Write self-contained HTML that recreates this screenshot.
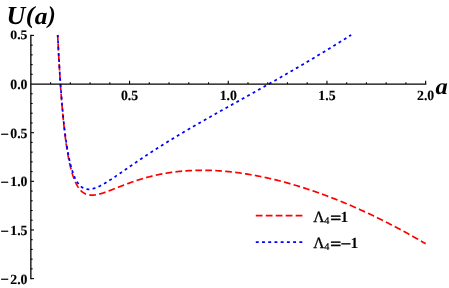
<!DOCTYPE html>
<html><head><meta charset="utf-8"><title>U(a)</title>
<style>
html,body{margin:0;padding:0;background:#fff;}
body{width:449px;height:288px;overflow:hidden;}
svg{display:block;}
text{font-family:"Liberation Serif",serif;font-weight:bold;fill:#000;text-rendering:geometricPrecision;}
.txt{filter:grayscale(1);}
.tk text{font-size:13.8px;stroke:#000;stroke-width:0.12px;}
.ttl{font-size:26px;font-style:italic;}
.leg{font-size:15.5px;}
</style></head><body>
<svg width="449" height="288" viewBox="0 0 449 288">
<rect width="449" height="288" fill="#fff"/>
<g fill="none" stroke-linecap="butt" stroke-linejoin="round">
<path d="M57.67 34.92 L57.67 34.93 L57.67 34.94 L57.67 34.97 L57.67 35.02 L57.67 35.07 L57.68 35.15 L57.68 35.24 L57.69 35.35 L57.69 35.47 L57.70 35.62 L57.71 35.78 L57.71 35.96 L57.72 36.16 L57.73 36.37 L57.75 36.61 L57.76 36.86 L57.77 37.14 L57.78 37.43 L57.80 37.75 L57.81 38.08 L57.83 38.43 L57.85 38.81 L57.87 39.20 L57.89 39.61 L57.91 40.05 L57.93 40.50 L57.95 40.97 L57.98 41.47 L58.00 41.98 L58.03 42.51 L58.05 43.06 L58.08 43.64 L58.11 44.23 L58.14 44.84 L58.17 45.47 L58.21 46.12 L58.24 46.78 L58.27 47.47 L58.31 48.17 L58.35 48.90 L58.38 49.64 L58.42 50.40 L58.46 51.17 L58.51 51.97 L58.55 52.78 L58.59 53.61 L58.64 54.45 L58.68 55.32 L58.73 56.19 L58.78 57.09 L58.83 58.00 L58.88 58.92 L58.93 59.86 L58.98 60.81 L59.04 61.78 L59.09 62.76 L59.15 63.76 L59.21 64.77 L59.27 65.79 L59.33 66.82 L59.39 67.87 L59.45 68.93 L59.51 69.99 L59.58 71.07 L59.65 72.16 L59.71 73.27 L59.78 74.38 L59.85 75.50 L59.92 76.63 L60.00 77.76 L60.07 78.91 L60.14 80.06 L60.22 81.22 L60.30 82.39 L60.38 83.57 L60.46 84.75 L60.54 85.93 L60.62 87.13 L60.71 88.32 L60.79 89.53 L60.88 90.73 L60.97 91.94 L61.05 93.16 L61.15 94.37 L61.24 95.59 L61.33 96.81 L61.42 98.04 L61.52 99.26 L61.62 100.49 L61.72 101.71 L61.82 102.94 L61.92 104.17 L62.02 105.39 L62.12 106.62 L62.23 107.84 L62.33 109.07 L62.44 110.29 L62.55 111.51 L62.66 112.73 L62.77 113.94 L62.88 115.15 L63.00 116.36 L63.11 117.56 L63.23 118.76 L63.35 119.96 L63.47 121.15 L63.59 122.33 L63.71 123.51 L63.84 124.69 L63.96 125.86 L64.09 127.02 L64.22 128.18 L64.35 129.33 L64.48 130.47 L64.61 131.61 L64.74 132.74 L64.88 133.86 L65.01 134.97 L65.15 136.08 L65.29 137.17 L65.43 138.26 L65.57 139.34 L65.72 140.42 L65.86 141.48 L66.01 142.53 L66.15 143.58 L66.30 144.61 L66.45 145.64 L66.61 146.65 L66.76 147.66 L66.91 148.65 L67.07 149.64 L67.23 150.62 L67.39 151.58 L67.55 152.54 L67.71 153.48 L67.87 154.41 L68.04 155.34 L68.20 156.25 L68.37 157.15 L68.54 158.04 L68.71 158.92 L68.88 159.78 L69.05 160.64 L69.23 161.48 L69.40 162.32 L69.58 163.14 L69.76 163.95 L69.94 164.75 L70.12 165.54 L70.31 166.31 L70.49 167.08 L70.68 167.83 L70.87 168.57 L71.05 169.30 L71.25 170.02 L71.44 170.73 L71.63 171.43 L71.83 172.11 L72.02 172.78 L72.22 173.44 L72.42 174.09 L72.62 174.73 L72.82 175.36 L73.03 175.97 L73.23 176.58 L73.44 177.17 L73.65 177.75 L73.86 178.32 L74.07 178.88 L74.28 179.43 L74.50 179.97 L74.72 180.50 L74.93 181.01 L75.15 181.52 L75.37 182.01 L75.59 182.49 L75.82 182.96 L76.04 183.43 L76.27 183.88 L76.50 184.32 L76.73 184.75 L76.96 185.17 L77.19 185.58 L77.43 185.98 L77.66 186.37 L77.90 186.75 L78.14 187.12 L78.38 187.48 L78.62 187.83 L78.86 188.17 L79.11 188.50 L79.35 188.82 L79.60 189.13 L79.85 189.44 L80.10 189.73 L80.36 190.02 L80.61 190.29 L80.87 190.56 L81.12 190.82 L81.38 191.07 L81.64 191.31 L81.90 191.54 L82.17 191.77 L82.43 191.98 L82.70 192.19 L82.97 192.39 L83.24 192.58 L83.51 192.77 L83.78 192.94 L84.05 193.11 L84.33 193.27 L84.61 193.43 L84.89 193.57 L85.17 193.71 L85.45 193.85 L85.73 193.97 L86.02 194.09 L86.31 194.20 L86.59 194.30 L86.88 194.40 L87.18 194.49 L87.47 194.58 L87.76 194.66 L88.06 194.73 L88.36 194.80 L88.66 194.86 L88.96 194.91 L89.26 194.96 L89.57 195.00 L89.87 195.04 L90.18 195.07 L90.49 195.09 L90.80 195.11 L91.11 195.13 L91.43 195.14 L91.74 195.14 L92.06 195.14 L92.38 195.14 L92.70 195.13 L93.02 195.11 L93.34 195.09 L93.67 195.07 L93.99 195.04 L94.32 195.01 L94.65 194.97 L94.98 194.93 L95.32 194.88 L95.65 194.83 L95.99 194.78 L96.33 194.72 L96.67 194.66 L97.01 194.59 L97.35 194.52 L97.70 194.45 L98.04 194.37 L98.39 194.29 L98.74 194.21 L99.09 194.13 L99.44 194.04 L99.80 193.94 L100.15 193.85 L100.51 193.75 L100.87 193.65 L101.23 193.54 L101.59 193.44 L101.96 193.33 L102.32 193.21 L102.69 193.10 L103.06 192.98 L103.43 192.86 L103.80 192.74 L104.18 192.61 L104.55 192.49 L104.93 192.36 L105.31 192.23 L105.69 192.09 L106.07 191.96 L106.45 191.82 L106.84 191.68 L107.23 191.54 L107.62 191.40 L108.01 191.25 L108.40 191.11 L108.79 190.96 L109.19 190.81 L109.58 190.66 L109.98 190.51 L110.38 190.35 L110.79 190.20 L111.19 190.04 L111.60 189.88 L112.00 189.72 L112.41 189.56 L112.82 189.40 L113.23 189.24 L113.65 189.08 L114.06 188.91 L114.48 188.75 L114.90 188.58 L115.32 188.42 L115.74 188.25 L116.17 188.08 L116.59 187.91 L117.02 187.75 L117.45 187.58 L117.88 187.41 L118.31 187.23 L118.75 187.06 L119.18 186.89 L119.62 186.72 L120.06 186.55 L120.50 186.37 L120.94 186.20 L121.38 186.03 L121.83 185.85 L122.28 185.68 L122.73 185.51 L123.18 185.33 L123.63 185.16 L124.09 184.99 L124.54 184.81 L125.00 184.64 L125.46 184.46 L125.92 184.29 L126.38 184.12 L126.85 183.94 L127.31 183.77 L127.78 183.60 L128.25 183.42 L128.72 183.25 L129.20 183.08 L129.67 182.91 L130.15 182.74 L130.63 182.57 L131.11 182.39 L131.59 182.22 L132.07 182.05 L132.56 181.89 L133.04 181.72 L133.53 181.55 L134.02 181.38 L134.51 181.21 L135.01 181.05 L135.50 180.88 L136.00 180.72 L136.50 180.55 L137.00 180.39 L137.50 180.23 L138.01 180.06 L138.51 179.90 L139.02 179.74 L139.53 179.58 L140.04 179.42 L140.55 179.26 L141.07 179.11 L141.58 178.95 L142.10 178.80 L142.62 178.64 L143.14 178.49 L143.67 178.34 L144.19 178.18 L144.72 178.03 L145.25 177.88 L145.78 177.73 L146.31 177.59 L146.84 177.44 L147.38 177.30 L147.91 177.15 L148.45 177.01 L148.99 176.87 L149.54 176.73 L150.08 176.59 L150.63 176.45 L151.17 176.31 L151.72 176.18 L152.28 176.04 L152.83 175.91 L153.38 175.78 L153.94 175.64 L154.50 175.52 L155.06 175.39 L155.62 175.26 L156.18 175.13 L156.75 175.01 L157.32 174.89 L157.88 174.77 L158.45 174.65 L159.03 174.53 L159.60 174.41 L160.18 174.29 L160.75 174.18 L161.33 174.07 L161.92 173.95 L162.50 173.84 L163.08 173.74 L163.67 173.63 L164.26 173.52 L164.85 173.42 L165.44 173.32 L166.03 173.22 L166.63 173.12 L167.23 173.02 L167.83 172.92 L168.43 172.83 L169.03 172.73 L169.63 172.64 L170.24 172.55 L170.85 172.46 L171.46 172.38 L172.07 172.29 L172.68 172.21 L173.30 172.13 L173.91 172.05 L174.53 171.97 L175.15 171.89 L175.77 171.82 L176.40 171.74 L177.02 171.67 L177.65 171.60 L178.28 171.53 L178.91 171.47 L179.55 171.40 L180.18 171.34 L180.82 171.28 L181.46 171.22 L182.10 171.16 L182.74 171.10 L183.38 171.05 L184.03 171.00 L184.67 170.95 L185.32 170.90 L185.97 170.85 L186.63 170.80 L187.28 170.76 L187.94 170.72 L188.60 170.68 L189.26 170.64 L189.92 170.61 L190.58 170.57 L191.25 170.54 L191.91 170.51 L192.58 170.48 L193.25 170.45 L193.93 170.43 L194.60 170.41 L195.28 170.39 L195.96 170.37 L196.64 170.35 L197.32 170.34 L198.00 170.32 L198.69 170.31 L199.37 170.30 L200.06 170.29 L200.75 170.29 L201.45 170.29 L202.14 170.29 L202.84 170.29 L203.54 170.29 L204.24 170.29 L204.94 170.30 L205.64 170.31 L206.35 170.32 L207.06 170.33 L207.76 170.35 L208.48 170.36 L209.19 170.38 L209.90 170.40 L210.62 170.43 L211.34 170.45 L212.06 170.48 L212.78 170.51 L213.50 170.54 L214.23 170.57 L214.96 170.61 L215.69 170.65 L216.42 170.69 L217.15 170.73 L217.89 170.77 L218.62 170.82 L219.36 170.87 L220.10 170.92 L220.84 170.97 L221.59 171.02 L222.34 171.08 L223.08 171.14 L223.83 171.20 L224.58 171.26 L225.34 171.33 L226.09 171.40 L226.85 171.47 L227.61 171.54 L228.37 171.61 L229.13 171.69 L229.90 171.77 L230.66 171.85 L231.43 171.93 L232.20 172.02 L232.97 172.11 L233.75 172.20 L234.52 172.29 L235.30 172.38 L236.08 172.48 L236.86 172.58 L237.64 172.68 L238.43 172.78 L239.22 172.89 L240.01 173.00 L240.80 173.11 L241.59 173.22 L242.38 173.33 L243.18 173.45 L243.98 173.57 L244.78 173.69 L245.58 173.82 L246.38 173.94 L247.19 174.07 L248.00 174.21 L248.80 174.34 L249.62 174.47 L250.43 174.61 L251.24 174.75 L252.06 174.90 L252.88 175.04 L253.70 175.19 L254.52 175.34 L255.35 175.49 L256.17 175.65 L257.00 175.81 L257.83 175.97 L258.66 176.13 L259.50 176.29 L260.33 176.46 L261.17 176.63 L262.01 176.80 L262.85 176.98 L263.69 177.16 L264.54 177.34 L265.38 177.52 L266.23 177.70 L267.08 177.89 L267.94 178.08 L268.79 178.27 L269.65 178.47 L270.51 178.66 L271.37 178.86 L272.23 179.07 L273.09 179.27 L273.96 179.48 L274.82 179.69 L275.69 179.90 L276.57 180.12 L277.44 180.33 L278.31 180.55 L279.19 180.78 L280.07 181.00 L280.95 181.23 L281.83 181.46 L282.72 181.69 L283.61 181.93 L284.49 182.17 L285.39 182.41 L286.28 182.65 L287.17 182.90 L288.07 183.15 L288.97 183.40 L289.87 183.65 L290.77 183.91 L291.67 184.17 L292.58 184.43 L293.49 184.70 L294.39 184.97 L295.31 185.24 L296.22 185.51 L297.13 185.79 L298.05 186.07 L298.97 186.35 L299.89 186.63 L300.81 186.92 L301.74 187.21 L302.67 187.50 L303.60 187.80 L304.53 188.09 L305.46 188.40 L306.39 188.70 L307.33 189.01 L308.27 189.32 L309.21 189.63 L310.15 189.94 L311.09 190.26 L312.04 190.58 L312.99 190.90 L313.94 191.23 L314.89 191.56 L315.84 191.89 L316.80 192.23 L317.76 192.57 L318.72 192.91 L319.68 193.25 L320.64 193.60 L321.60 193.95 L322.57 194.30 L323.54 194.65 L324.51 195.01 L325.48 195.37 L326.46 195.74 L327.44 196.11 L328.42 196.48 L329.40 196.85 L330.38 197.22 L331.36 197.60 L332.35 197.99 L333.34 198.37 L334.33 198.76 L335.32 199.15 L336.31 199.55 L337.31 199.94 L338.31 200.34 L339.31 200.75 L340.31 201.15 L341.31 201.56 L342.32 201.98 L343.33 202.39 L344.34 202.81 L345.35 203.23 L346.36 203.66 L347.38 204.09 L348.40 204.52 L349.42 204.95 L350.44 205.39 L351.46 205.83 L352.49 206.28 L353.51 206.72 L354.54 207.17 L355.57 207.63 L356.61 208.08 L357.64 208.54 L358.68 209.01 L359.72 209.47 L360.76 209.94 L361.80 210.42 L362.85 210.89 L363.89 211.37 L364.94 211.86 L365.99 212.34 L367.05 212.83 L368.10 213.33 L369.16 213.82 L370.21 214.32 L371.28 214.82 L372.34 215.33 L373.40 215.84 L374.47 216.35 L375.54 216.87 L376.61 217.39 L377.68 217.91 L378.75 218.44 L379.83 218.97 L380.91 219.50 L381.99 220.04 L383.07 220.58 L384.15 221.12 L385.24 221.67 L386.33 222.22 L387.42 222.77 L388.51 223.33 L389.60 223.89 L390.70 224.46 L391.80 225.02 L392.90 225.60 L394.00 226.17 L395.10 226.75 L396.21 227.33 L397.32 227.92 L398.43 228.51 L399.54 229.10 L400.65 229.70 L401.77 230.30 L402.88 230.90 L404.00 231.51 L405.12 232.12 L406.25 232.73 L407.37 233.35 L408.50 233.97 L409.63 234.60 L410.76 235.23 L411.89 235.86 L413.03 236.50 L414.17 237.14 L415.31 237.78 L416.45 238.43 L417.59 239.08 L418.74 239.74 L419.88 240.40 L421.03 241.06 L422.18 241.73 L423.34 242.40 L424.49 243.07 L425.65 243.75" stroke="#ff0000" stroke-width="1.7" stroke-dasharray="6.7 3.27" stroke-dashoffset="0.963"/>
<path d="M57.72 34.92 L57.72 34.93 L57.72 34.94 L57.72 34.96 L57.73 35.00 L57.73 35.04 L57.73 35.10 L57.73 35.17 L57.74 35.26 L57.74 35.36 L57.75 35.47 L57.75 35.60 L57.76 35.74 L57.77 35.89 L57.78 36.07 L57.79 36.25 L57.79 36.45 L57.81 36.67 L57.82 36.90 L57.83 37.15 L57.84 37.42 L57.85 37.70 L57.87 37.99 L57.88 38.30 L57.90 38.63 L57.92 38.97 L57.93 39.33 L57.95 39.71 L57.97 40.10 L57.99 40.51 L58.01 40.93 L58.03 41.37 L58.05 41.83 L58.08 42.30 L58.10 42.79 L58.13 43.29 L58.15 43.81 L58.18 44.34 L58.21 44.89 L58.24 45.46 L58.27 46.04 L58.30 46.63 L58.33 47.24 L58.36 47.87 L58.39 48.51 L58.43 49.16 L58.46 49.83 L58.50 50.52 L58.53 51.22 L58.57 51.93 L58.61 52.65 L58.65 53.39 L58.69 54.14 L58.73 54.91 L58.77 55.69 L58.82 56.48 L58.86 57.28 L58.90 58.10 L58.95 58.93 L59.00 59.77 L59.05 60.62 L59.10 61.48 L59.14 62.36 L59.20 63.24 L59.25 64.14 L59.30 65.04 L59.35 65.96 L59.41 66.88 L59.47 67.82 L59.52 68.76 L59.58 69.72 L59.64 70.68 L59.70 71.65 L59.76 72.63 L59.82 73.62 L59.88 74.61 L59.95 75.61 L60.01 76.62 L60.08 77.64 L60.15 78.66 L60.21 79.69 L60.28 80.72 L60.35 81.76 L60.42 82.81 L60.50 83.86 L60.57 84.91 L60.64 85.97 L60.72 87.03 L60.80 88.10 L60.87 89.17 L60.95 90.24 L61.03 91.32 L61.11 92.40 L61.19 93.48 L61.28 94.56 L61.36 95.65 L61.44 96.73 L61.53 97.82 L61.62 98.91 L61.70 100.00 L61.79 101.09 L61.88 102.18 L61.98 103.27 L62.07 104.36 L62.16 105.44 L62.26 106.53 L62.35 107.62 L62.45 108.70 L62.54 109.78 L62.64 110.87 L62.74 111.94 L62.84 113.02 L62.95 114.09 L63.05 115.16 L63.15 116.23 L63.26 117.30 L63.37 118.36 L63.47 119.41 L63.58 120.47 L63.69 121.51 L63.80 122.56 L63.91 123.60 L64.03 124.63 L64.14 125.66 L64.26 126.68 L64.37 127.70 L64.49 128.71 L64.61 129.72 L64.73 130.72 L64.85 131.72 L64.97 132.71 L65.10 133.69 L65.22 134.66 L65.35 135.63 L65.47 136.59 L65.60 137.55 L65.73 138.49 L65.86 139.43 L65.99 140.37 L66.12 141.29 L66.26 142.21 L66.39 143.12 L66.53 144.02 L66.67 144.91 L66.80 145.80 L66.94 146.67 L67.08 147.54 L67.22 148.40 L67.37 149.25 L67.51 150.10 L67.66 150.93 L67.80 151.75 L67.95 152.57 L68.10 153.38 L68.25 154.18 L68.40 154.97 L68.55 155.75 L68.71 156.52 L68.86 157.28 L69.02 158.03 L69.17 158.77 L69.33 159.51 L69.49 160.23 L69.65 160.95 L69.81 161.65 L69.97 162.35 L70.14 163.03 L70.30 163.71 L70.47 164.38 L70.64 165.04 L70.81 165.68 L70.98 166.32 L71.15 166.95 L71.32 167.57 L71.49 168.18 L71.67 168.78 L71.84 169.37 L72.02 169.95 L72.20 170.52 L72.38 171.09 L72.56 171.64 L72.74 172.18 L72.92 172.71 L73.11 173.24 L73.29 173.75 L73.48 174.26 L73.67 174.75 L73.86 175.24 L74.05 175.72 L74.24 176.18 L74.43 176.64 L74.63 177.09 L74.82 177.53 L75.02 177.96 L75.22 178.39 L75.42 178.80 L75.62 179.20 L75.82 179.60 L76.02 179.98 L76.22 180.36 L76.43 180.73 L76.64 181.09 L76.84 181.44 L77.05 181.78 L77.26 182.11 L77.47 182.44 L77.69 182.76 L77.90 183.06 L78.11 183.36 L78.33 183.66 L78.55 183.94 L78.77 184.21 L78.99 184.48 L79.21 184.74 L79.43 184.99 L79.65 185.23 L79.88 185.47 L80.11 185.70 L80.33 185.92 L80.56 186.13 L80.79 186.33 L81.02 186.53 L81.26 186.72 L81.49 186.90 L81.73 187.08 L81.96 187.24 L82.20 187.41 L82.44 187.56 L82.68 187.71 L82.92 187.84 L83.16 187.98 L83.41 188.10 L83.65 188.22 L83.90 188.33 L84.15 188.44 L84.40 188.54 L84.65 188.63 L84.90 188.72 L85.15 188.80 L85.40 188.87 L85.66 188.94 L85.92 189.00 L86.17 189.06 L86.43 189.11 L86.69 189.15 L86.96 189.19 L87.22 189.22 L87.48 189.24 L87.75 189.26 L88.02 189.28 L88.28 189.29 L88.55 189.29 L88.83 189.29 L89.10 189.29 L89.37 189.27 L89.65 189.26 L89.92 189.23 L90.20 189.21 L90.48 189.18 L90.76 189.14 L91.04 189.10 L91.32 189.05 L91.61 189.00 L91.89 188.94 L92.18 188.88 L92.46 188.82 L92.75 188.75 L93.04 188.67 L93.34 188.59 L93.63 188.51 L93.92 188.42 L94.22 188.33 L94.52 188.24 L94.81 188.14 L95.11 188.04 L95.41 187.93 L95.72 187.82 L96.02 187.70 L96.32 187.58 L96.63 187.46 L96.94 187.34 L97.25 187.21 L97.56 187.07 L97.87 186.94 L98.18 186.80 L98.50 186.65 L98.81 186.51 L99.13 186.36 L99.45 186.20 L99.77 186.05 L100.09 185.89 L100.41 185.72 L100.73 185.56 L101.06 185.39 L101.38 185.22 L101.71 185.04 L102.04 184.87 L102.37 184.69 L102.70 184.50 L103.03 184.32 L103.37 184.13 L103.70 183.94 L104.04 183.74 L104.38 183.55 L104.72 183.35 L105.06 183.15 L105.40 182.94 L105.74 182.74 L106.09 182.53 L106.43 182.32 L106.78 182.11 L107.13 181.89 L107.48 181.67 L107.83 181.45 L108.18 181.23 L108.54 181.01 L108.89 180.78 L109.25 180.55 L109.61 180.32 L109.97 180.09 L110.33 179.86 L110.69 179.62 L111.06 179.39 L111.42 179.15 L111.79 178.91 L112.16 178.66 L112.52 178.42 L112.89 178.17 L113.27 177.92 L113.64 177.67 L114.01 177.42 L114.39 177.17 L114.77 176.92 L115.15 176.66 L115.53 176.40 L115.91 176.14 L116.29 175.88 L116.67 175.62 L117.06 175.36 L117.45 175.10 L117.84 174.83 L118.23 174.56 L118.62 174.29 L119.01 174.02 L119.40 173.75 L119.80 173.48 L120.19 173.21 L120.59 172.93 L120.99 172.66 L121.39 172.38 L121.79 172.10 L122.20 171.82 L122.60 171.54 L123.01 171.26 L123.42 170.98 L123.83 170.70 L124.24 170.41 L124.65 170.13 L125.06 169.84 L125.47 169.56 L125.89 169.27 L126.31 168.98 L126.73 168.69 L127.15 168.40 L127.57 168.11 L127.99 167.81 L128.42 167.52 L128.84 167.23 L129.27 166.93 L129.70 166.64 L130.13 166.34 L130.56 166.04 L130.99 165.75 L131.42 165.45 L131.86 165.15 L132.30 164.85 L132.73 164.55 L133.17 164.25 L133.61 163.94 L134.06 163.64 L134.50 163.34 L134.95 163.03 L135.39 162.73 L135.84 162.42 L136.29 162.12 L136.74 161.81 L137.19 161.50 L137.65 161.20 L138.10 160.89 L138.56 160.58 L139.02 160.27 L139.48 159.96 L139.94 159.65 L140.40 159.34 L140.86 159.03 L141.33 158.72 L141.79 158.40 L142.26 158.09 L142.73 157.78 L143.20 157.46 L143.67 157.15 L144.15 156.83 L144.62 156.52 L145.10 156.20 L145.58 155.89 L146.05 155.57 L146.53 155.25 L147.02 154.93 L147.50 154.62 L147.98 154.30 L148.47 153.98 L148.96 153.66 L149.45 153.34 L149.94 153.02 L150.43 152.70 L150.92 152.38 L151.42 152.06 L151.91 151.74 L152.41 151.41 L152.91 151.09 L153.41 150.77 L153.91 150.45 L154.42 150.12 L154.92 149.80 L155.43 149.47 L155.94 149.15 L156.45 148.82 L156.96 148.50 L157.47 148.17 L157.98 147.85 L158.50 147.52 L159.01 147.19 L159.53 146.87 L160.05 146.54 L160.57 146.21 L161.09 145.88 L161.62 145.55 L162.14 145.22 L162.67 144.89 L163.19 144.56 L163.72 144.23 L164.25 143.90 L164.79 143.57 L165.32 143.24 L165.86 142.91 L166.39 142.58 L166.93 142.25 L167.47 141.91 L168.01 141.58 L168.55 141.25 L169.10 140.91 L169.64 140.58 L170.19 140.25 L170.74 139.91 L171.29 139.58 L171.84 139.24 L172.39 138.91 L172.94 138.57 L173.50 138.23 L174.06 137.90 L174.61 137.56 L175.17 137.22 L175.73 136.88 L176.30 136.55 L176.86 136.21 L177.43 135.87 L177.99 135.53 L178.56 135.19 L179.13 134.85 L179.70 134.51 L180.28 134.17 L180.85 133.82 L181.43 133.48 L182.00 133.14 L182.58 132.80 L183.16 132.46 L183.75 132.11 L184.33 131.77 L184.91 131.42 L185.50 131.08 L186.09 130.73 L186.68 130.39 L187.27 130.04 L187.86 129.70 L188.45 129.35 L189.05 129.00 L189.64 128.65 L190.24 128.31 L190.84 127.96 L191.44 127.61 L192.04 127.26 L192.65 126.91 L193.25 126.56 L193.86 126.21 L194.47 125.86 L195.08 125.50 L195.69 125.15 L196.30 124.80 L196.92 124.45 L197.53 124.09 L198.15 123.74 L198.77 123.38 L199.39 123.03 L200.01 122.67 L200.63 122.31 L201.26 121.96 L201.88 121.60 L202.51 121.24 L203.14 120.88 L203.77 120.52 L204.40 120.16 L205.04 119.80 L205.67 119.44 L206.31 119.08 L206.94 118.72 L207.58 118.36 L208.23 118.00 L208.87 117.63 L209.51 117.27 L210.16 116.90 L210.80 116.54 L211.45 116.17 L212.10 115.80 L212.75 115.44 L213.41 115.07 L214.06 114.70 L214.72 114.33 L215.37 113.96 L216.03 113.59 L216.69 113.22 L217.36 112.85 L218.02 112.48 L218.68 112.10 L219.35 111.73 L220.02 111.35 L220.69 110.98 L221.36 110.60 L222.03 110.23 L222.70 109.85 L223.38 109.47 L224.06 109.09 L224.73 108.71 L225.41 108.33 L226.10 107.95 L226.78 107.57 L227.46 107.19 L228.15 106.80 L228.84 106.42 L229.53 106.04 L230.22 105.65 L230.91 105.26 L231.60 104.88 L232.30 104.49 L232.99 104.10 L233.69 103.71 L234.39 103.32 L235.09 102.93 L235.79 102.54 L236.50 102.15 L237.20 101.75 L237.91 101.36 L238.62 100.96 L239.33 100.57 L240.04 100.17 L240.76 99.77 L241.47 99.37 L242.19 98.97 L242.90 98.57 L243.62 98.17 L244.34 97.77 L245.07 97.36 L245.79 96.96 L246.52 96.56 L247.24 96.15 L247.97 95.74 L248.70 95.33 L249.43 94.93 L250.17 94.52 L250.90 94.10 L251.64 93.69 L252.37 93.28 L253.11 92.87 L253.85 92.45 L254.60 92.04 L255.34 91.62 L256.08 91.20 L256.83 90.78 L257.58 90.36 L258.33 89.94 L259.08 89.52 L259.83 89.10 L260.59 88.67 L261.34 88.25 L262.10 87.82 L262.86 87.39 L263.62 86.96 L264.38 86.53 L265.15 86.10 L265.91 85.67 L266.68 85.24 L267.45 84.80 L268.22 84.37 L268.99 83.93 L269.76 83.50 L270.53 83.06 L271.31 82.62 L272.09 82.18 L272.87 81.73 L273.65 81.29 L274.43 80.85 L275.21 80.40 L276.00 79.95 L276.78 79.50 L277.57 79.06 L278.36 78.60 L279.15 78.15 L279.95 77.70 L280.74 77.25 L281.54 76.79 L282.33 76.33 L283.13 75.87 L283.93 75.41 L284.74 74.95 L285.54 74.49 L286.35 74.03 L287.15 73.56 L287.96 73.10 L288.77 72.63 L289.58 72.16 L290.40 71.69 L291.21 71.22 L292.03 70.75 L292.84 70.27 L293.66 69.80 L294.48 69.32 L295.31 68.84 L296.13 68.36 L296.96 67.88 L297.78 67.40 L298.61 66.91 L299.44 66.43 L300.27 65.94 L301.11 65.45 L301.94 64.96 L302.78 64.47 L303.62 63.98 L304.45 63.48 L305.30 62.99 L306.14 62.49 L306.98 61.99 L307.83 61.49 L308.68 60.99 L309.52 60.48 L310.37 59.98 L311.23 59.47 L312.08 58.96 L312.94 58.45 L313.79 57.94 L314.65 57.43 L315.51 56.91 L316.37 56.40 L317.23 55.88 L318.10 55.36 L318.97 54.84 L319.83 54.32 L320.70 53.79 L321.57 53.27 L322.45 52.74 L323.32 52.21 L324.19 51.68 L325.07 51.15 L325.95 50.61 L326.83 50.07 L327.71 49.54 L328.60 49.00 L329.48 48.46 L330.37 47.91 L331.26 47.37 L332.14 46.82 L333.04 46.27 L333.93 45.72 L334.82 45.17 L335.72 44.62 L336.62 44.06 L337.52 43.51 L338.42 42.95 L339.32 42.39 L340.22 41.82 L341.13 41.26 L342.04 40.69 L342.94 40.12 L343.85 39.55 L344.77 38.98 L345.68 38.41 L346.59 37.83 L347.51 37.25 L348.43 36.67 L349.35 36.09 L350.27 35.51 L351.19 34.92" stroke="#0000ff" stroke-width="1.75" stroke-dasharray="2.9 3.324" stroke-dashoffset="0.597"/>
<path d="M255.8 215.6H302.8" stroke="#ff0000" stroke-width="1.7" stroke-dasharray="6.7 3.27"/>
<path d="M255.8 242H302.8" stroke="#0000ff" stroke-width="1.75" stroke-dasharray="2.9 3.324"/>
</g>
<g stroke="#000" stroke-width="1.3" fill="none" stroke-linecap="butt">
<line x1="30.85" y1="34.76" x2="30.85" y2="279.26"/>
<line x1="30.85" y1="84.05" x2="426.30" y2="84.05"/>
</g>
<g stroke="#000" stroke-width="1.1" fill="none">
<line x1="50.59" y1="84.05" x2="50.59" y2="82.25"/>
<line x1="70.33" y1="84.05" x2="70.33" y2="82.25"/>
<line x1="90.07" y1="84.05" x2="90.07" y2="82.25"/>
<line x1="109.81" y1="84.05" x2="109.81" y2="82.25"/>
<line x1="129.55" y1="84.05" x2="129.55" y2="80.85"/>
<line x1="149.29" y1="84.05" x2="149.29" y2="82.25"/>
<line x1="169.03" y1="84.05" x2="169.03" y2="82.25"/>
<line x1="188.77" y1="84.05" x2="188.77" y2="82.25"/>
<line x1="208.51" y1="84.05" x2="208.51" y2="82.25"/>
<line x1="228.25" y1="84.05" x2="228.25" y2="80.85"/>
<line x1="247.99" y1="84.05" x2="247.99" y2="82.25"/>
<line x1="267.73" y1="84.05" x2="267.73" y2="82.25"/>
<line x1="287.47" y1="84.05" x2="287.47" y2="82.25"/>
<line x1="307.21" y1="84.05" x2="307.21" y2="82.25"/>
<line x1="326.95" y1="84.05" x2="326.95" y2="80.85"/>
<line x1="346.69" y1="84.05" x2="346.69" y2="82.25"/>
<line x1="366.43" y1="84.05" x2="366.43" y2="82.25"/>
<line x1="386.17" y1="84.05" x2="386.17" y2="82.25"/>
<line x1="405.91" y1="84.05" x2="405.91" y2="82.25"/>
<line x1="425.65" y1="84.05" x2="425.65" y2="80.85"/>
<line x1="30.85" y1="35.41" x2="34.05" y2="35.41"/>
<line x1="30.85" y1="45.14" x2="32.65" y2="45.14"/>
<line x1="30.85" y1="54.87" x2="32.65" y2="54.87"/>
<line x1="30.85" y1="64.59" x2="32.65" y2="64.59"/>
<line x1="30.85" y1="74.32" x2="32.65" y2="74.32"/>
<line x1="30.85" y1="93.78" x2="32.65" y2="93.78"/>
<line x1="30.85" y1="103.51" x2="32.65" y2="103.51"/>
<line x1="30.85" y1="113.23" x2="32.65" y2="113.23"/>
<line x1="30.85" y1="122.96" x2="32.65" y2="122.96"/>
<line x1="30.85" y1="132.69" x2="34.05" y2="132.69"/>
<line x1="30.85" y1="142.42" x2="32.65" y2="142.42"/>
<line x1="30.85" y1="152.15" x2="32.65" y2="152.15"/>
<line x1="30.85" y1="161.87" x2="32.65" y2="161.87"/>
<line x1="30.85" y1="171.60" x2="32.65" y2="171.60"/>
<line x1="30.85" y1="181.33" x2="34.05" y2="181.33"/>
<line x1="30.85" y1="191.06" x2="32.65" y2="191.06"/>
<line x1="30.85" y1="200.79" x2="32.65" y2="200.79"/>
<line x1="30.85" y1="210.51" x2="32.65" y2="210.51"/>
<line x1="30.85" y1="220.24" x2="32.65" y2="220.24"/>
<line x1="30.85" y1="229.97" x2="34.05" y2="229.97"/>
<line x1="30.85" y1="239.70" x2="32.65" y2="239.70"/>
<line x1="30.85" y1="249.43" x2="32.65" y2="249.43"/>
<line x1="30.85" y1="259.15" x2="32.65" y2="259.15"/>
<line x1="30.85" y1="268.88" x2="32.65" y2="268.88"/>
<line x1="30.85" y1="278.61" x2="34.05" y2="278.61"/>
</g>
<g class="txt">
<g class="tk">
<text transform="translate(129.55 100.35) scale(1 1.020)" text-anchor="middle">0.5</text>
<text transform="translate(228.25 100.35) scale(1 1.020)" text-anchor="middle">1.0</text>
<text transform="translate(326.95 100.35) scale(1 1.020)" text-anchor="middle">1.5</text>
<text transform="translate(425.65 100.35) scale(1 1.020)" text-anchor="middle">2.0</text>
<text transform="translate(27.50 39.41) scale(1 0.930)" text-anchor="end">0.5</text>
<text transform="translate(27.50 89.05) scale(1 1.020)" text-anchor="end">0.0</text>
<text transform="translate(27.50 137.69) scale(1 1.020)" text-anchor="end">0.5</text>
<text style="stroke:#000;stroke-width:0.2px" transform="translate(0.50 138.54) scale(1.060 1.020)">−</text>
<text transform="translate(27.50 186.33) scale(1 1.020)" text-anchor="end">1.0</text>
<text style="stroke:#000;stroke-width:0.2px" transform="translate(0.50 187.18) scale(1.060 1.020)">−</text>
<text transform="translate(27.50 234.97) scale(1 1.020)" text-anchor="end">1.5</text>
<text style="stroke:#000;stroke-width:0.2px" transform="translate(0.50 235.82) scale(1.060 1.020)">−</text>
<text transform="translate(27.50 283.61) scale(1 1.020)" text-anchor="end">2.0</text>
<text style="stroke:#000;stroke-width:0.2px" transform="translate(0.50 284.46) scale(1.060 1.020)">−</text>
</g>
<text class="ttl" x="6.4" y="23.6">U</text>
<text class="ttl" transform="translate(25.87 23.1) scale(1 0.94)">(</text>
<text class="ttl" transform="translate(34.83 23.6) scale(0.98 0.92)">a</text>
<text class="ttl" transform="translate(47.98 23.1) scale(0.88 0.94)">)</text>
<text class="ttl" style="font-size:24.5px" transform="translate(435.5 93.5) scale(1 0.94)">a</text>
<text class="leg" style="font-weight:normal;stroke:#000;stroke-width:0.3px" x="313.20" y="221.80">Λ</text>
<text class="leg" style="font-size:10.3px;font-weight:normal;stroke:#000;stroke-width:0.2px" x="324.20" y="223.80">4</text>
<text class="leg" style="stroke:#000;stroke-width:0.45px" transform="translate(330.30 222.70) scale(1.250 1)">=</text>
<text class="leg" x="340.55" y="221.80">1</text>
<text class="leg" style="font-weight:normal;stroke:#000;stroke-width:0.3px" x="313.20" y="247.60">Λ</text>
<text class="leg" style="font-size:10.3px;font-weight:normal;stroke:#000;stroke-width:0.2px" x="324.20" y="249.60">4</text>
<text class="leg" style="stroke:#000;stroke-width:0.45px" transform="translate(330.30 248.50) scale(1.250 1)">=</text>
<text class="leg" style="stroke:#000;stroke-width:0.45px" transform="translate(340.85 248.50) scale(1.170 1)">−</text>
<text class="leg" x="350.55" y="247.60">1</text>
</g>
</svg>
</body></html>
